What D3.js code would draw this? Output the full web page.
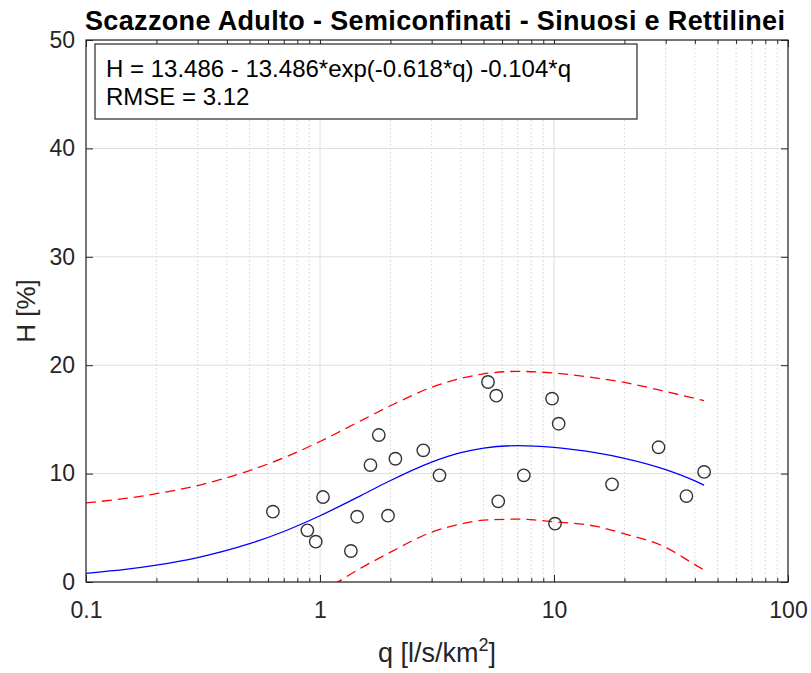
<!DOCTYPE html>
<html>
<head>
<meta charset="utf-8">
<script src="https://cdn.jsdelivr.net/npm/d3@7"></script>
<style>
  html, body { margin: 0; padding: 0; background: #ffffff; }
  svg { display: block; font-family: "Liberation Sans", Arial, Helvetica, sans-serif; }
</style>
</head>
<body>
<svg id="chart" width="811" height="673"></svg>
<script>
// ---- data ----
const titleText = "Scazzone Adulto - Semiconfinati - Sinuosi e Rettilinei";
const xLabelText = "q [l/s/km";
const yLabelText = "H [%]";
const legendLines = ["H = 13.486 - 13.486*exp(-0.618*q) -0.104*q", "RMSE = 3.12"];

const obsQ = [0.629, 0.883, 0.959, 1.030, 1.355, 1.441, 1.643, 1.783, 1.953, 2.100, 2.763, 3.241,
              5.223, 5.665, 5.777, 7.43, 9.81, 10.47, 10.10, 17.7, 27.98, 36.8, 43.8];
const obsH = [6.49, 4.77, 3.72, 7.84, 2.86, 6.02, 10.79, 13.56, 6.12, 11.37, 12.15, 9.84,
              18.45, 17.19, 7.44, 9.84, 16.91, 14.60, 5.38, 9.01, 12.43, 7.93, 10.15];

const curveQ = [0.1, 0.15, 0.2, 0.3, 0.5, 0.7, 1, 1.5, 2, 3, 4, 5, 7, 10, 15, 20, 30, 40, 43.8];
const fitH   = [0.80, 1.18, 1.55, 2.25, 3.53, 4.66, 6.11, 7.99, 9.36, 11.06, 11.93, 12.35, 12.58, 12.42, 11.93, 11.41, 10.37, 9.33, 8.93];
const upperH = [7.30, 7.73, 8.15, 8.90, 10.28, 11.46, 12.96, 14.89, 16.26, 17.96, 18.78, 19.20, 19.43, 19.27, 18.83, 18.41, 17.57, 16.93, 16.73];
const lowerH = [-5.9, -5.5, -5.1, -4.4, -3.2, -2.1, -0.9, 1.3, 2.75, 4.6, 5.35, 5.7, 5.8, 5.55, 5.15, 4.45, 3.2, 1.6, 1.1];

const xTickVals = [0.1, 1, 10, 100];
const xTickLabels = ["0.1", "1", "10", "100"];
const yTickVals = [0, 10, 20, 30, 40, 50];

// ---- layout ----
const L = 86, R = 788, T = 40, B = 582;
const svg = d3.select("#chart");
const x = d3.scaleLog().domain([0.1, 100]).range([L, R]);
const y = d3.scaleLinear().domain([0, 50]).range([B, T]);
const axisColor = "#262626";

svg.append("defs").append("clipPath").attr("id", "clip")
  .append("rect").attr("x", L).attr("y", T).attr("width", R - L).attr("height", B - T);

// grid
const minorX = x.ticks().filter(v => !xTickVals.some(t => Math.abs(t - v) < 1e-9));
const grid = svg.append("g");
grid.selectAll("line.minor").data(minorX).join("line")
  .attr("x1", d => x(d)).attr("x2", d => x(d)).attr("y1", T).attr("y2", B)
  .attr("stroke", "#c8c8c8").attr("stroke-width", 0.8).attr("stroke-dasharray", "1.5,2.5");
grid.selectAll("line.majx").data(xTickVals).join("line")
  .attr("x1", d => x(d)).attr("x2", d => x(d)).attr("y1", T).attr("y2", B)
  .attr("stroke", "#dedede").attr("stroke-width", 1);
grid.selectAll("line.majy").data(yTickVals).join("line")
  .attr("x1", L).attr("x2", R).attr("y1", d => y(d)).attr("y2", d => y(d))
  .attr("stroke", "#dedede").attr("stroke-width", 1);

// axes with inward ticks (bottom, top, left, right)
function styleAxis(g) {
  g.select(".domain").remove();
  g.selectAll("line").attr("stroke", axisColor);
  g.selectAll("text").attr("fill", axisColor).attr("font-size", 23);
}
const xb = svg.append("g").attr("transform", `translate(0,${B})`)
  .call(d3.axisBottom(x).tickValues(xTickVals).tickFormat((d, i) => xTickLabels[i]).tickSizeInner(-7).tickSizeOuter(0).tickPadding(20));
styleAxis(xb);
const xbm = svg.append("g").attr("transform", `translate(0,${B})`)
  .call(d3.axisBottom(x).tickValues(minorX).tickFormat("").tickSizeInner(-4).tickSizeOuter(0));
styleAxis(xbm);
const xt = svg.append("g").attr("transform", `translate(0,${T})`)
  .call(d3.axisTop(x).tickValues(xTickVals).tickFormat("").tickSizeInner(-7).tickSizeOuter(0));
styleAxis(xt);
const xtm = svg.append("g").attr("transform", `translate(0,${T})`)
  .call(d3.axisTop(x).tickValues(minorX).tickFormat("").tickSizeInner(-4).tickSizeOuter(0));
styleAxis(xtm);
const yl = svg.append("g").attr("transform", `translate(${L},0)`)
  .call(d3.axisLeft(y).tickValues(yTickVals).tickSizeInner(-7).tickSizeOuter(0).tickPadding(11));
styleAxis(yl);
const yr = svg.append("g").attr("transform", `translate(${R},0)`)
  .call(d3.axisRight(y).tickValues(yTickVals).tickFormat("").tickSizeInner(-7).tickSizeOuter(0));
styleAxis(yr);

// curves
const line = d3.line().x(d => x(d[0])).y(d => y(d[1])).curve(d3.curveMonotoneX);
const plot = svg.append("g").attr("clip-path", "url(#clip)");
plot.append("path").datum(curveQ.map((q, i) => [q, upperH[i]]))
  .attr("d", line).attr("fill", "none").attr("stroke", "#ff0000").attr("stroke-width", 1.3)
  .attr("stroke-dasharray", "10,6");
plot.append("path").datum(curveQ.map((q, i) => [q, lowerH[i]]))
  .attr("d", line).attr("fill", "none").attr("stroke", "#ff0000").attr("stroke-width", 1.3)
  .attr("stroke-dasharray", "10,6");
plot.append("path").datum(curveQ.map((q, i) => [q, fitH[i]]))
  .attr("d", line).attr("fill", "none").attr("stroke", "#0000ff").attr("stroke-width", 1.3);

// observations
svg.append("g").selectAll("circle").data(obsQ.map((q, i) => [q, obsH[i]])).join("circle")
  .attr("cx", d => x(d[0])).attr("cy", d => y(d[1])).attr("r", 6.2)
  .attr("fill", "none").attr("stroke", "#333333").attr("stroke-width", 1.4);

// box
svg.append("rect").attr("x", L).attr("y", T).attr("width", R - L).attr("height", B - T)
  .attr("fill", "none").attr("stroke", axisColor).attr("stroke-width", 1.2);

// legend / annotation box
svg.append("rect").attr("x", 95).attr("y", 44).attr("width", 542).attr("height", 75)
  .attr("fill", "#ffffff").attr("stroke", axisColor).attr("stroke-width", 1.2);
svg.append("g").selectAll("text").data(legendLines).join("text")
  .attr("x", 106).attr("y", (d, i) => 77 + i * 28)
  .attr("font-size", 24).attr("fill", "#000000").text(d => d);

// title
svg.append("text").attr("x", 85).attr("y", 30)
  .attr("textLength", 700).attr("lengthAdjust", "spacing")
  .attr("font-size", 27).attr("font-weight", "bold").attr("fill", "#000000").text(titleText);

// axis labels
const xl = svg.append("text").attr("x", (L + R) / 2).attr("y", 662).attr("text-anchor", "middle")
  .attr("font-size", 27).attr("fill", axisColor);
xl.append("tspan").text(xLabelText);
xl.append("tspan").attr("font-size", 18).attr("dy", -11).text("2");
xl.append("tspan").attr("dy", 11).text("]");

svg.append("text").attr("transform", `translate(35,${(T + B) / 2}) rotate(-90)`)
  .attr("text-anchor", "middle").attr("font-size", 26).attr("fill", axisColor).text(yLabelText);
</script>
</body>
</html>
